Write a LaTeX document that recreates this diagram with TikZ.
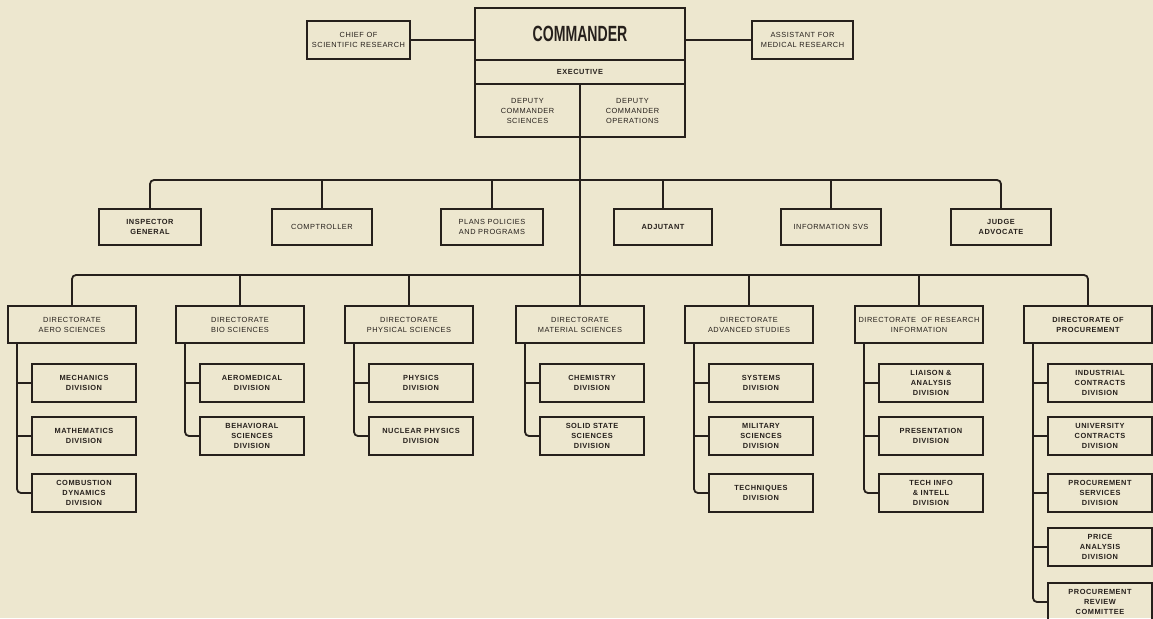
\documentclass[tikz,border=0pt]{standalone}
\usepackage{fontspec}
\usepackage{graphicx}
\newfontfamily\chartfont[LetterSpace=7]{Liberation Sans}
\newfontfamily\titlefont{Liberation Sans}
\definecolor{paper}{RGB}{237,231,207}
\definecolor{ink}{RGB}{38,32,28}

\tikzset{
  box/.style={draw=ink, line width=1.2pt, inner sep=0pt, outer sep=0pt,
    align=center, text=ink, font=\chartfont\fontsize{7.4}{10}\selectfont},
  heavy/.style={font=\chartfont\bfseries\fontsize{7.4}{10}\selectfont},
  frame/.style={line width=1.6pt},
  conn/.style={draw=ink, line width=1.8pt},
  elbow/.style={rounded corners=4pt},
}

% box by its corners: [options]{name}{x1}{y1}{x2}{y2}{text}
\newcommand{\orgbox}[7][]{%
  \node[box,#1,minimum width={(#5)-(#3)},minimum height={(#6)-(#4)}]
    (#2) at ({((#3)+(#5))/2},{((#4)+(#6))/2}) {#7};}
% division box under a directorate whose left edge is at #3
\newcommand{\divbox}[6][]{\orgbox[heavy,#1]{#2}{#3+24}{#4}{#3+128}{#5}{#6}}

\begin{document}
\begin{tikzpicture}[x=1pt,y=-1pt]
\fill[paper] (0,0) rectangle (1153,618);
\useasboundingbox (0,0) rectangle (1153,618);

% ---- command group
\orgbox[frame,font=\titlefont\bfseries\fontsize{22}{22}\selectfont]{cmd}{475}{8}{685}{60}{\scalebox{0.64}[1]{COMMANDER}}
\orgbox[frame,heavy]{exec}{475}{60}{685}{84}{EXECUTIVE}
\orgbox[frame]{depsci}{475}{84}{580}{137}{DEPUTY\\COMMANDER\\SCIENCES}
\orgbox[frame]{depops}{580}{84}{685}{137}{DEPUTY\\COMMANDER\\OPERATIONS}

\orgbox{chief}{307}{21}{410}{59}{CHIEF OF\\SCIENTIFIC RESEARCH}
\orgbox{asst}{752}{21}{853}{59}{ASSISTANT FOR\\MEDICAL RESEARCH}
\draw[conn] (chief.east) -- (chief.east -| cmd.west);
\draw[conn] (asst.west) -- (asst.west -| cmd.east);

% ---- staff offices
\orgbox[heavy]{insp}{99}{209}{201}{245}{INSPECTOR\\GENERAL}
\orgbox{comp}{272}{209}{372}{245}{COMPTROLLER}
\orgbox{plans}{441}{209}{543}{245}{PLANS POLICIES\\AND PROGRAMS}
\orgbox[heavy]{adj}{614}{209}{712}{245}{ADJUTANT}
\orgbox{info}{781}{209}{881}{245}{INFORMATION SVS}
\orgbox[heavy]{judge}{951}{209}{1051}{245}{JUDGE\\ADVOCATE}

\coordinate (sbus) at (580,180);
\draw[conn,elbow] (insp.north) |- (sbus) -| (judge.north);
\foreach \n in {comp,plans,adj,info}
  \draw[conn] (\n.north) -- (\n.north |- sbus);

% ---- directorates
\orgbox{dir1}{8}{306}{136}{343}{DIRECTORATE\\AERO SCIENCES}
\orgbox{dir2}{176}{306}{304}{343}{DIRECTORATE\\BIO SCIENCES}
\orgbox{dir3}{345}{306}{473}{343}{DIRECTORATE\\PHYSICAL SCIENCES}
\orgbox{dir4}{516}{306}{644}{343}{DIRECTORATE\\MATERIAL SCIENCES}
\orgbox{dir5}{685}{306}{813}{343}{DIRECTORATE\\ADVANCED STUDIES}
\orgbox{dir6}{855}{306}{983}{343}{DIRECTORATE \ OF RESEARCH\\INFORMATION}
\orgbox[heavy]{dir7}{1024}{306}{1152}{343}{DIRECTORATE OF\\PROCUREMENT}

\draw[conn] (depsci.south east) -- (dir4.north);
\coordinate (dbus) at (580,275);
\draw[conn,elbow] (dir1.north) |- (dbus) -| (dir7.north);
\foreach \n in {dir2,dir3,dir5,dir6}
  \draw[conn] (\n.north) -- (\n.north |- dbus);

% ---- divisions
\divbox{mech}{8}{364}{402}{MECHANICS\\DIVISION}
\divbox{math}{8}{417}{455}{MATHEMATICS\\DIVISION}
\divbox{comb}{8}{474}{512}{COMBUSTION\\DYNAMICS\\DIVISION}

\divbox{aero}{176}{364}{402}{AEROMEDICAL\\DIVISION}
\divbox{behav}{176}{417}{455}{BEHAVIORAL\\SCIENCES\\DIVISION}

\divbox{phys}{345}{364}{402}{PHYSICS\\DIVISION}
\divbox{nucl}{345}{417}{455}{NUCLEAR PHYSICS\\DIVISION}

\divbox{chem}{516}{364}{402}{CHEMISTRY\\DIVISION}
\divbox{solid}{516}{417}{455}{SOLID STATE\\SCIENCES\\DIVISION}

\divbox{syst}{685}{364}{402}{SYSTEMS\\DIVISION}
\divbox{mil}{685}{417}{455}{MILITARY\\SCIENCES\\DIVISION}
\divbox{tech}{685}{474}{512}{TECHNIQUES\\DIVISION}

\divbox{liai}{855}{364}{402}{LIAISON \&\\ANALYSIS\\DIVISION}
\divbox{pres}{855}{417}{455}{PRESENTATION\\DIVISION}
\divbox{tinfo}{855}{474}{512}{TECH INFO\\\& INTELL\\DIVISION}

\divbox{indc}{1024}{364}{402}{INDUSTRIAL\\CONTRACTS\\DIVISION}
\divbox{univ}{1024}{417}{455}{UNIVERSITY\\CONTRACTS\\DIVISION}
\divbox{psvc}{1024}{474}{512}{PROCUREMENT\\SERVICES\\DIVISION}
\divbox{price}{1024}{528}{566}{PRICE\\ANALYSIS\\DIVISION}
\divbox{prev}{1024}{583}{621}{PROCUREMENT\\REVIEW\\COMMITTEE}

% spines from each directorate down to its divisions
\foreach \d/\last/\others in {
    dir1/comb/{mech,math},
    dir2/behav/{aero},
    dir3/nucl/{phys},
    dir4/solid/{chem},
    dir5/tech/{syst,mil},
    dir6/tinfo/{liai,pres},
    dir7/prev/{indc,univ,psvc,price}}{
  \coordinate (sp) at ([xshift=9pt]\d.south west);
  \draw[conn,elbow] (sp) |- (\last.west);
  \foreach \v in \others
    \draw[conn] (sp |- \v.west) -- (\v.west);
}
\end{tikzpicture}
\end{document}
